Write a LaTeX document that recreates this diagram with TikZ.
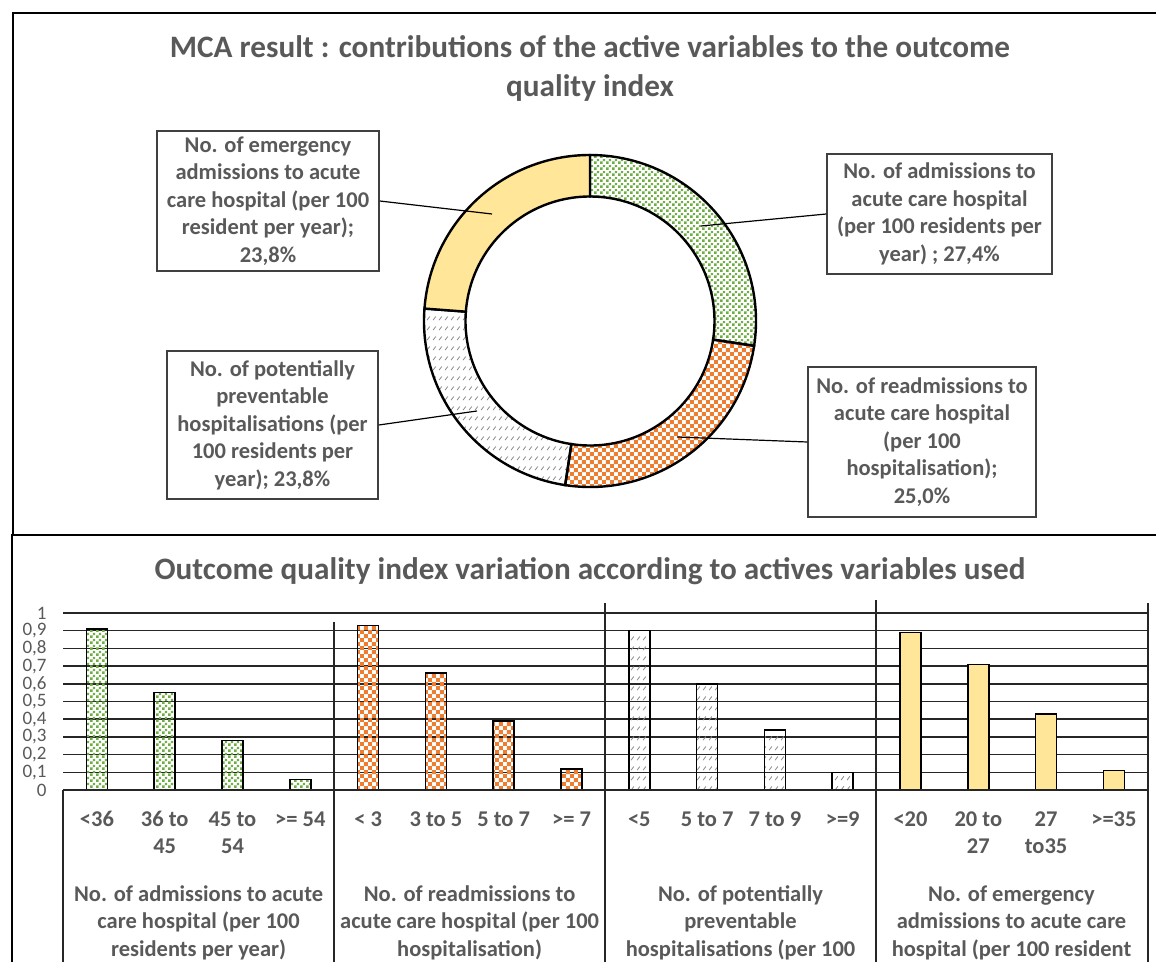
\documentclass[tikz,border=0pt]{standalone}
\usepackage{fontspec}
\setmainfont{Carlito}
\usepackage{tikz}
\usetikzlibrary{patterns,calc}
\usepackage{xcolor}

\definecolor{txtgray}{HTML}{595959}
\definecolor{mcagreen}{HTML}{70AD47}
\definecolor{mcaorange}{HTML}{ED7D31}
\definecolor{mcayellow}{HTML}{FFE699}
\definecolor{mcagray}{HTML}{8C8C8C}

\pgfdeclarepatternformonly{greendots}{\pgfqpoint{0pt}{0pt}}{\pgfqpoint{3pt}{3pt}}{\pgfqpoint{3pt}{3pt}}{%
  \pgfpathrectangle{\pgfqpoint{0.1pt}{0.1pt}}{\pgfqpoint{1.4pt}{1.4pt}}%
  \pgfpathrectangle{\pgfqpoint{1.6pt}{1.6pt}}{\pgfqpoint{1.3pt}{1.3pt}}%
  \pgfusepath{fill}}
\pgfdeclarepatternformonly{graydashes}{\pgfqpoint{0pt}{0pt}}{\pgfqpoint{3pt}{5pt}}{\pgfqpoint{3pt}{5pt}}{%
  \pgfsetlinewidth{0.45pt}%
  \pgfpathmoveto{\pgfqpoint{0.6pt}{1pt}}\pgfpathlineto{\pgfqpoint{2.2pt}{3pt}}%
  \pgfusepath{stroke}}
\pgfdeclarepatternformonly{smallchecks}{\pgfqpoint{0pt}{0pt}}{\pgfqpoint{4.2pt}{4.2pt}}{\pgfqpoint{4.2pt}{4.2pt}}{%
  \pgfpathrectangle{\pgfqpoint{0pt}{0pt}}{\pgfqpoint{2.1pt}{2.1pt}}%
  \pgfpathrectangle{\pgfqpoint{2.1pt}{2.1pt}}{\pgfqpoint{2.1pt}{2.1pt}}%
  \pgfusepath{fill}}

\begin{document}
\begin{tikzpicture}[x=0.5pt, y=-0.5pt,
    frame/.style={line width=1pt},
    title/.style={font=\bfseries\fontsize{15.6}{19.5}\selectfont, text=txtgray, align=center},
    callout/.style={draw=black!75, line width=0.75pt, fill=white, align=center, inner sep=1pt, font=\bfseries\fontsize{11.25}{13.75}\selectfont, text=txtgray},
    leader/.style={line width=0.6pt},
    ring/.style={draw=black, line width=1.2pt},
    greenpart/.style={ring, pattern=greendots, pattern color=mcagreen},
    orangepart/.style={ring, pattern=smallchecks, pattern color=mcaorange},
    graypart/.style={ring, pattern=graydashes, pattern color=mcagray},
    yellowpart/.style={ring, fill=mcayellow},
    gridline/.style={line width=0.75pt, black!85},
    septline/.style={line width=0.6pt, black!85},
    tick/.style={font=\fontsize{9.5}{10}\selectfont, text=txtgray, anchor=east, inner sep=0pt},
    catlabel/.style={font=\bfseries\fontsize{11.25}{13.75}\selectfont, text=txtgray, align=center, anchor=north, inner sep=0pt}
]
\useasboundingbox (0,0) rectangle (1156,962);
\clip (0,0) rectangle (1156,962);

% Frames
\draw[frame] (13,13) rectangle (1180,535);
\draw[frame] (12,535) rectangle (1180,1000);

% Titles
\node (toptitle) [title] at (590,68) {MCA result : contributions of the active variables to the outcome\\quality index};
\node (bottitle) [title] at (590,571) {Outcome quality index variation according to actives variables used};

% Donut
\begin{scope}[shift={(590,321)}, y=0.5pt]
  \draw[greenpart] (90:166) arc[start angle=90, end angle=-8.6, radius=166] -- (-8.6:124.5) arc[start angle=-8.6, end angle=90, radius=124.5] -- cycle;
  \draw[orangepart] (-8.6:166) arc[start angle=-8.6, end angle=-98.6, radius=166] -- (-98.6:124.5) arc[start angle=-98.6, end angle=-8.6, radius=124.5] -- cycle;
  \draw[graypart] (-98.6:166) arc[start angle=-98.6, end angle=-184.3, radius=166] -- (-184.3:124.5) arc[start angle=-184.3, end angle=-98.6, radius=124.5] -- cycle;
  \draw[yellowpart] (-184.3:166) arc[start angle=-184.3, end angle=-270, radius=166] -- (-270:124.5) arc[start angle=-270, end angle=-184.3, radius=124.5] -- cycle;
\end{scope}
\coordinate (padmit) at (701,226);
\coordinate (preadm) at (677,437);
\coordinate (pprev) at (477,411);
\coordinate (pemerg) at (492,214);

% Callouts
\node (emerg) [callout, minimum width=111pt, minimum height=70pt] at (268,201) {No. of emergency\\admissions to acute\\care hospital (per 100\\resident per year);\\23,8\%};
\node (admit) [callout, minimum width=112.5pt, minimum height=60pt] at (939.5,214) {No. of admissions to\\acute care hospital\\(per 100 residents per\\year) ; 27,4\%};
\node (prev) [callout, minimum width=105.5pt, minimum height=74pt] at (272.5,425) {No. of potentially\\preventable\\hospitalisations (per\\100 residents per\\year); 23,8\%};
\node (readm) [callout, minimum width=114pt, minimum height=75pt] at (922,442) {No. of readmissions to\\acute care hospital\\(per 100\\hospitalisation);\\25,0\%};

% Leaders
\draw[leader] (emerg.east) -- (pemerg);
\draw[leader] (admit.west) -- (padmit);
\draw[leader] (prev.east) -- (pprev);
\draw[leader] (readm.west) -- (preadm);

% Grid and axis
\foreach \v in {1,...,10}
  \draw[gridline] (63,{790-17.7*\v}) -- (1148,{790-17.7*\v});
\foreach \v/\t in {0/0, 1/{0,1}, 2/{0,2}, 3/{0,3}, 4/{0,4}, 5/{0,5}, 6/{0,6}, 7/{0,7}, 8/{0,8}, 9/{0,9}, 10/1}
  \node (tick\v) [tick] at (47,{790-17.7*\v}) {\t};

% Bars
\foreach \i/\h in {0/0.91, 1/0.55, 2/0.28, 3/0.06}
  \draw[greenpart, line width=0.75pt] ({86.4+67.8*\i},790) rectangle ({107.4+67.8*\i},{790-177*\h});
\foreach \i/\h in {4/0.93, 5/0.66, 6/0.39, 7/0.12}
  \draw[orangepart, line width=0.75pt] ({86.4+67.8*\i},790) rectangle ({107.4+67.8*\i},{790-177*\h});
\foreach \i/\h in {8/0.90, 9/0.60, 10/0.34, 11/0.10}
  \draw[graypart, line width=0.75pt] ({86.4+67.8*\i},790) rectangle ({107.4+67.8*\i},{790-177*\h});
\foreach \i/\h in {12/0.89, 13/0.71, 14/0.43, 15/0.11}
  \draw[yellowpart, line width=0.75pt] ({86.4+67.8*\i},790) rectangle ({107.4+67.8*\i},{790-177*\h});

\draw[gridline] (63,790) -- (1148,790);

% Category axis
\draw[septline] (63,790) -- (63,1000);
\draw[septline] (334,622) -- (334,1000);
\draw[septline] (605,603) -- (605,1000);
\draw[septline] (876,600) -- (876,1000);
\draw[septline] (1148,603) -- (1148,1000);

\foreach \i/\t in {0/{<36}, 1/{36 to\\45}, 2/{45 to\\54}, 3/{>= 54}, 4/{< 3}, 5/{3 to 5}, 6/{5 to 7}, 7/{>= 7}, 8/{<5}, 9/{5 to 7}, 10/{7 to 9}, 11/{>=9}, 12/{<20}, 13/{20 to\\27}, 14/{27\\to35}, 15/{>=35}}
  \node (cat\i) [catlabel] at ({96.9+67.8*\i},809) {\vphantom{(}\t};

\node (grpadmit) [catlabel] at (198.6,885) {No. of admissions to acute\\care hospital (per 100\\residents per year)};
\node (grpreadm) [catlabel] at (469.6,885) {No. of readmissions to\\acute care hospital (per 100\\hospitalisation)};
\node (grpprev) [catlabel] at (740.5,885) {No. of potentially\\preventable\\hospitalisations (per 100};
\node (grpemerg) [catlabel] at (1011.5,885) {No. of emergency\\admissions to acute care\\hospital (per 100 resident};

\end{tikzpicture}
\end{document}
